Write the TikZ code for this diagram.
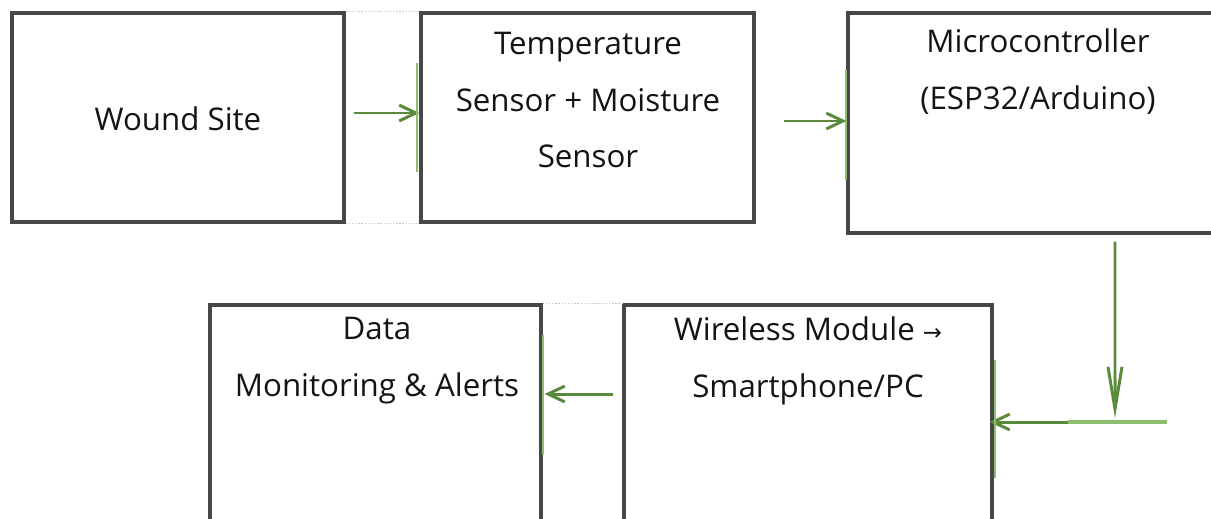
\documentclass[tikz,border=0pt]{standalone}
\usepackage{fontspec}
\setmainfont{Open Sans}
\newfontfamily\arrowfont{DejaVu Sans}
\usetikzlibrary{arrows.meta, positioning}

\definecolor{boxgray}{HTML}{474747}
\definecolor{flowgreen}{HTML}{5A8A3C}
\definecolor{bargreen}{HTML}{8CBF6E}

\begin{document}
\begin{tikzpicture}[
    x=0.02cm, y=-0.02cm,
    % block styles
    block/.style={
        rectangle,
        draw=boxgray,
        line width=1.8pt,
        inner sep=0pt
    },
    blocktext/.style={
        font=\fontsize{17.8}{32.4}\selectfont,
        align=center,
        inner sep=0pt,
        text=black!92
    },
    % connector styles
    flow/.style={draw=flowgreen, line width=1.7pt, -{Straight Barb[length=9.5pt, width=9pt]}},
    longflow/.style={draw=flowgreen, line width=1.7pt, -{Straight Barb[length=24pt, width=8pt]}},
    bar/.style={draw=bargreen, line width=1.1pt},
    gap/.style={draw=gray!45, densely dotted, line width=0.8pt}
]

\useasboundingbox (0,0) rectangle (1211,518);
\clip (0,0) rectangle (1211,518);

% Blocks (top row)
\node[block, minimum width=6.64cm, minimum height=4.18cm] (wound) at (178,117.5) {};
\node[block, minimum width=6.66cm, minimum height=4.18cm] (temp) at (587.5,117.5) {};
\node[block, minimum width=7.34cm, minimum height=4.40cm] (mcu) at (1031.5,123) {};

% Blocks (bottom row)
\node[block, minimum width=6.62cm, minimum height=4.80cm] (data) at (375.5,425) {};
\node[block, minimum width=7.36cm, minimum height=4.80cm] (wireless) at (808,425) {};

% Texts
\node[blocktext] (woundtext) at (178,119) {Wound Site};
\node[blocktext] (temptext) at (588,100) {Temperature\\Sensor + Moisture\\Sensor};
\node[blocktext] (mcutext) at (1038,72) {Microcontroller\\(ESP32/Arduino)};
\node[blocktext] (datatext) at (377,361) {Data\\Monitoring \& Alerts};
\node[blocktext] (wirelesstext) at (808,361) {Wireless Module {\arrowfont\fontsize{13}{13}\selectfont →}\\Smartphone/PC};

% Dotted gaps between neighbours
\draw[gap] (wound.north east) -- (temp.north west);
\draw[gap] (wound.south east) -- (temp.south west);
\draw[gap] (data.north east) -- (wireless.north west);

% Wound Site -> sensors
\draw[flow, shorten <=0.16cm] ([yshift=0.09cm]wound.east) -- ([yshift=0.09cm]wound.east -| temp.west);
\draw[bar] ([xshift=-0.04cm, yshift=1.1cm]temp.west) -- ([xshift=-0.04cm, yshift=-1.1cm]temp.west);

% sensors -> microcontroller
\draw[flow, shorten <=0.56cm] ([yshift=-0.07cm]temp.east) -- ([yshift=-0.07cm]temp.east -| mcu.west);
\draw[bar] ([yshift=1.06cm]mcu.west) -- ([yshift=-1.14cm]mcu.west);

% microcontroller -> wireless module
\coordinate (junction) at (1115,422);
\coordinate (tail) at (1167,422);
\draw[longflow, shorten <=0.14cm, shorten >=0.08cm] ([xshift=1.67cm]mcu.south) -- (junction);
\draw[flow, shorten >=-0.08cm] (tail) -- (junction -| wireless.east);
\draw[bar, line width=1.8pt] ([xshift=-0.94cm]junction) -- (tail);
\draw[bar] ([xshift=0.02cm, yshift=1.3cm]wireless.east) -- ([xshift=0.02cm, yshift=-1.06cm]wireless.east);

% wireless module -> monitoring
\draw[flow, shorten <=0.18cm, shorten >=0.04cm] ([yshift=0.62cm]wireless.west) -- ([yshift=0.62cm]wireless.west -| data.east);
\draw[bar] ([yshift=1.8cm]data.east) -- ([yshift=-0.6cm]data.east);

\end{tikzpicture}
\end{document}
